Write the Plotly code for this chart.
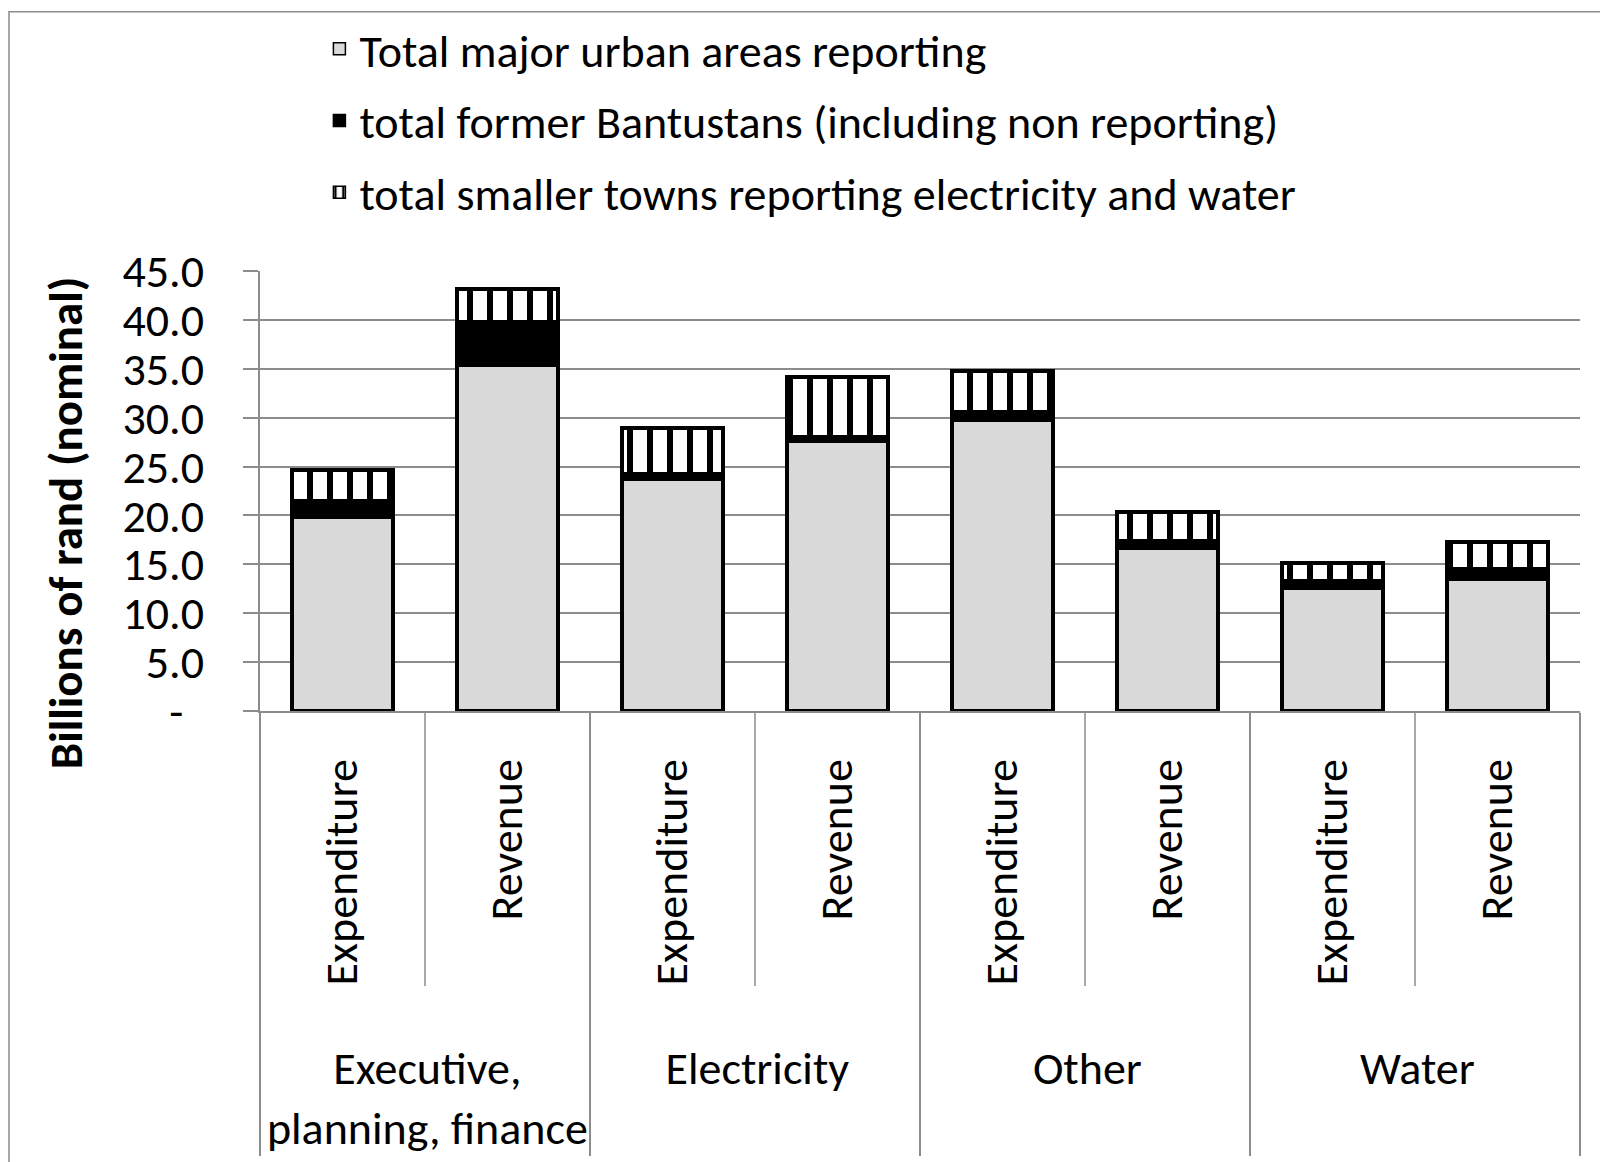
import plotly.graph_objects as go

# categories
groups = ["Executive,<br>planning, finance", "Electricity", "Other", "Water"]
subs = ["Expenditure", "Revenue"]

# billions of rand (nominal)
major_urban = [19.8, 35.4, 23.7, 27.6, 29.8, 16.7, 12.6, 13.5]
bantustans = [1.7, 4.4, 0.5, 0.4, 0.8, 0.7, 0.65, 1.0]
smaller_towns = [3.1, 3.4, 4.7, 6.2, 4.2, 3.0, 1.9, 2.75]

series_names = ["Total major urban areas reporting",
                "total former Bantustans (including non reporting)",
                "total smaller towns reporting electricity and water"]

y_ticks = [0, 5, 10, 15, 20, 25, 30, 35, 40, 45]
y_ticktext = ["-", "5.0", "10.0", "15.0", "20.0", "25.0", "30.0", "35.0", "40.0", "45.0"]

NB = "\u00a0"
FONT = "Carlito, Calibri, Lato, sans-serif"
GRID = "#8c8c8c"

# no-break spaces nudge the category labels to where the source has them
x_group = ["<br>".join(NB * 2 + line for line in g.split("<br>")) for g in groups for _ in subs]
x_sub = [NB * 4 + s for _ in groups for s in subs]
y_ticktext[0] = y_ticktext[0] + NB * 2

hatch = dict(shape="|", fgcolor="#000000", bgcolor="#ffffff", fgopacity=1,
             fillmode="replace", size=20, solidity=0.3)
fills = [dict(color="#d9d9d9"), dict(color="black"), dict(color="white", pattern=hatch)]

fig = go.Figure()
for name, vals, fill in zip(series_names, [major_urban, bantustans, smaller_towns], fills):
    fig.add_trace(go.Bar(x=[x_group, x_sub], y=vals, name=name, showlegend=False,
                         marker=dict(line=dict(color="black", width=4), **fill)))

# legend entries with a thinner outline, like the small legend keys in the source
for i, (name, fill) in enumerate(zip(series_names, fills)):
    fig.add_trace(go.Bar(x=[[x_group[0]], [x_sub[0]]], y=[None], name=name,
                         legendgroup=str(i), hoverinfo="skip",
                         marker=dict(line=dict(color="black", width=1.5), **fill)))

# short dividers between the sub-categories inside each group
for i in range(len(groups)):
    fig.add_shape(type="line", xref="x", yref="paper", x0=2 * i + 0.5, x1=2 * i + 0.5,
                  y0=0, y1=-0.625, line=dict(color=GRID, width=1.5), layer="below")

# outer frame of the chart
fig.add_shape(type="rect", xref="paper", yref="paper",
              x0=(9 - 260) / 1320, x1=(1620 - 260) / 1320,
              y0=(711 - 1180) / 443, y1=(711 - 7) / 443,
              line=dict(color="#8c8c8c", width=1.5), fillcolor="rgba(0,0,0,0)")

fig.update_layout(
    width=1600, height=1162,
    margin=dict(l=260, r=20, t=268, b=451),
    paper_bgcolor="white", plot_bgcolor="white",
    barmode="stack", bargap=0.39,
    font=dict(family=FONT, size=46, color="black"),
    legend=dict(x=0.045, y=1.588, xanchor="left", yanchor="top",
                traceorder="grouped", tracegroupgap=9,
                font=dict(size=46), bgcolor="rgba(0,0,0,0)"),
    xaxis=dict(type="multicategory", tickangle=-90, showline=True, linecolor=GRID, linewidth=1.5,
               showdividers=True, dividercolor=GRID, dividerwidth=1.5, automargin=False,
               ticks="", showgrid=False, ticklabelstandoff=28, tickfont=dict(size=46)),
    yaxis=dict(range=[0, 45], tickvals=y_ticks, ticktext=y_ticktext, automargin=False,
               showgrid=True, gridcolor=GRID, gridwidth=1.5,
               showline=True, linecolor=GRID, linewidth=1.5,
               ticks="outside", ticklen=15, tickcolor=GRID, tickwidth=1.5,
               ticklabelstandoff=30, tickfont=dict(size=46),
               title=dict(text="<b>Billions of rand (nominal)" + NB * 6 + "</b>",
                          font=dict(size=47), standoff=25)),
)

fig.write_html("out.html", config={"displayModeBar": False},
               post_script="document.body.style.margin='0px';")
